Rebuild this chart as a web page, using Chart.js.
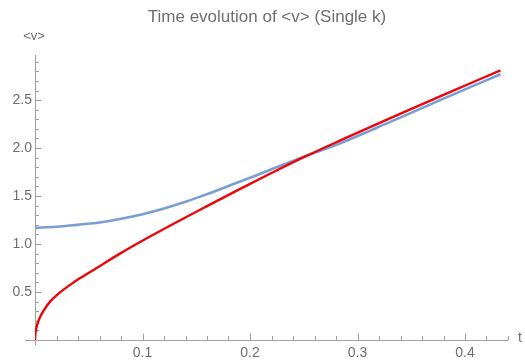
<!DOCTYPE html>
<html>
<head>
<meta charset="utf-8">
<script src="https://cdn.jsdelivr.net/npm/chart.js@4"></script>
<style>
  html, body { margin: 0; padding: 0; background: #fff; }
  canvas { display: block; }
</style>
</head>
<body>
<canvas id="chart" width="525" height="361"></canvas>
<script>
// values
const redT = [0, 0.0004, 0.0012, 0.0025, 0.0047, 0.008, 0.014, 0.02, 0.026, 0.034, 0.042, 0.057, 0.079, 0.104, 0.132, 0.16, 0.19, 0.22, 0.25, 0.284, 0.33, 0.38, 0.433];
const redV = [0, 0.07, 0.12, 0.175, 0.24, 0.305, 0.4, 0.465, 0.52, 0.585, 0.645, 0.748, 0.9, 1.06, 1.23, 1.395, 1.57, 1.74, 1.905, 2.08, 2.31, 2.555, 2.81];
const blueT = [0, 0.02, 0.039, 0.06, 0.079, 0.1, 0.12, 0.14, 0.16, 0.18, 0.2, 0.22, 0.25, 0.284, 0.33, 0.38, 0.433];
const blueV = [1.17, 1.18, 1.2, 1.225, 1.26, 1.31, 1.37, 1.44, 1.52, 1.605, 1.69, 1.78, 1.91, 2.05, 2.27, 2.515, 2.77];
const xTicks = [0.1, 0.2, 0.3, 0.4];
const yTicks = [0.5, 1.0, 1.5, 2.0, 2.5];

const titleText = 'Time evolution of <v> (Single k)';
const xLabel = 't';
const yLabel = '<v>';

const toPoints = (xs, ys) => xs.map((x, i) => ({ x: x, y: ys[i] }));

const axisColor = '#a0a0a0';
const textColor = '#6e6e6e';
const fontFamily = '"Liberation Sans", Arial, sans-serif';

// Mathematica-like axes: lines through the origin, ticks pointing inward
const axesPlugin = {
  id: 'axes',
  beforeDatasetsDraw(chart) {
    const ctx = chart.ctx;
    const xs = chart.scales.x;
    const ys = chart.scales.y;
    const x0 = xs.getPixelForValue(0);
    const y0 = ys.getPixelForValue(0);
    ctx.save();
    ctx.strokeStyle = axisColor;
    ctx.lineWidth = 1;
    ctx.beginPath();
    ctx.moveTo(x0 - 10, y0 + 0.5);
    ctx.lineTo(xs.right, y0 + 0.5);
    ctx.moveTo(x0 + 0.5, ys.top);
    ctx.lineTo(x0 + 0.5, y0 + 5);
    // x ticks: major every 0.1, minor every 0.02
    for (let i = 1; i * 0.02 <= xs.max + 1e-9; i++) {
      const px = Math.round(xs.getPixelForValue(i * 0.02)) + 0.5;
      const len = i % 5 === 0 ? 6.5 : 4;
      ctx.moveTo(px, y0);
      ctx.lineTo(px, y0 - len);
    }
    // y ticks: major every 0.5, minor every 0.1
    for (let i = 1; i * 0.1 <= ys.max + 1e-9; i++) {
      const py = Math.round(ys.getPixelForValue(i * 0.1)) + 0.5;
      const len = i % 5 === 0 ? 6.5 : 4;
      ctx.moveTo(x0, py);
      ctx.lineTo(x0 + len, py);
    }
    ctx.stroke();
    ctx.restore();
  },
  afterDraw(chart) {
    const ctx = chart.ctx;
    const xs = chart.scales.x;
    const ys = chart.scales.y;
    ctx.save();
    ctx.fillStyle = textColor;
    ctx.textBaseline = 'middle';
    ctx.textAlign = 'center';
    ctx.font = '17px ' + fontFamily;
    ctx.fillText(titleText, 267, 17);
    ctx.font = '13px ' + fontFamily;
    ctx.fillText(yLabel, 34, 36);
    ctx.font = '14px ' + fontFamily;
    ctx.textAlign = 'left';
    ctx.fillText(xLabel, xs.right + 10, ys.getPixelForValue(0) - 2);
    ctx.restore();
  }
};

new Chart(document.getElementById('chart'), {
  type: 'line',
  data: {
    datasets: [
      {
        label: 'red',
        data: toPoints(redT, redV),
        borderColor: 'rgb(236, 6, 10)',
        borderWidth: 2.4,
        pointRadius: 0,
        cubicInterpolationMode: 'monotone',
        fill: false
      },
      {
        label: 'blue',
        data: toPoints(blueT, blueV),
        borderColor: 'rgba(108, 148, 206, 0.9)',
        borderWidth: 2.6,
        pointRadius: 0,
        cubicInterpolationMode: 'monotone',
        fill: false
      }
    ]
  },
  options: {
    responsive: false,
    animation: false,
    layout: { padding: { top: 55, right: 17, left: 0, bottom: 0 } },
    plugins: {
      legend: { display: false },
      title: { display: false },
      tooltip: { enabled: false }
    },
    scales: {
      x: {
        type: 'linear',
        min: 0,
        max: 0.44,
        grid: { display: false, drawTicks: false },
        border: { display: false },
        afterFit(scale) { scale.height = 21; },
        afterBuildTicks(scale) { scale.ticks = xTicks.map(v => ({ value: v })); },
        ticks: {
          padding: 5,
          color: textColor,
          font: { family: fontFamily, size: 14 },
          maxRotation: 0,
          callback: v => v.toFixed(1)
        }
      },
      y: {
        type: 'linear',
        min: 0,
        max: 2.97,
        grid: { display: false, drawTicks: false },
        border: { display: false },
        afterFit(scale) { scale.width = 35; },
        afterBuildTicks(scale) { scale.ticks = yTicks.map(v => ({ value: v })); },
        ticks: {
          padding: 3,
          color: textColor,
          font: { family: fontFamily, size: 14 },
          callback: v => v.toFixed(1)
        }
      }
    }
  },
  plugins: [axesPlugin]
});
</script>
</body>
</html>
